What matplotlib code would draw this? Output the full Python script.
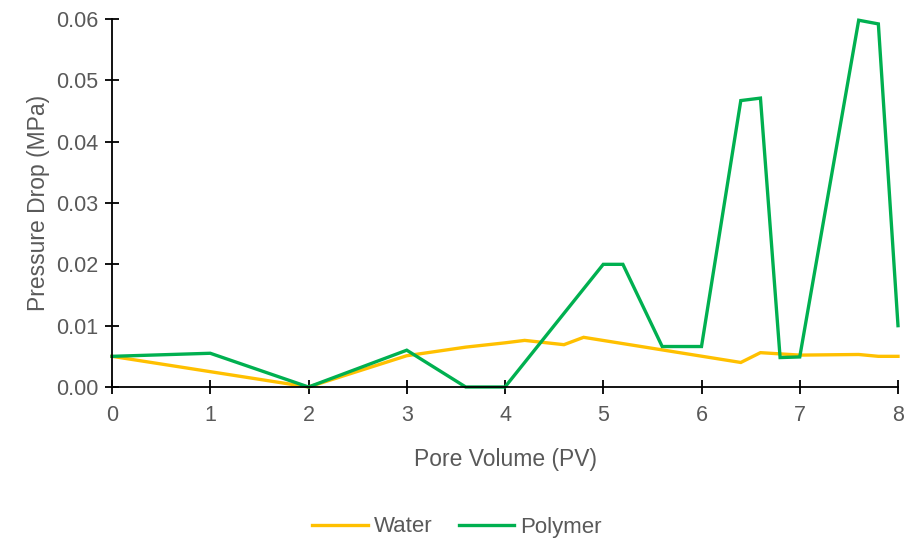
import matplotlib
matplotlib.use('Agg')
import matplotlib.pyplot as plt

# pore volume (PV) and pressure drop (MPa)
water_pv = [0, 1, 2, 3, 3.6, 4.0, 4.2, 4.6, 4.8, 6.4, 6.6, 7.0, 7.6, 7.8, 8.0]
water_dp = [0.005, 0.0025, 0.0, 0.0051, 0.0065, 0.0072, 0.0076, 0.0069, 0.0081,
            0.0040, 0.0056, 0.0052, 0.0053, 0.0050, 0.0050]

polymer_pv = [0, 1, 2, 3, 3.6, 4.0, 5.0, 5.2, 5.6, 6.0, 6.4, 6.6, 6.8, 7.0, 7.6, 7.8, 8.0]
polymer_dp = [0.005, 0.0055, 0.0, 0.006, 0.0, 0.0, 0.020, 0.020, 0.0066, 0.0066,
              0.0467, 0.0471, 0.0048, 0.0049, 0.0598, 0.0592, 0.0100]

x_ticks = [0, 1, 2, 3, 4, 5, 6, 7, 8]
y_ticks = [0.00, 0.01, 0.02, 0.03, 0.04, 0.05, 0.06]

plt.rcParams['font.family'] = ['Liberation Sans', 'DejaVu Sans']
grey = '#595959'

fig = plt.figure(figsize=(9.06, 5.42), dpi=100)
ax = fig.add_axes([112 / 906, 155 / 542, 786 / 906, 368 / 542])

ax.plot(water_pv, water_dp, color='#FFC000', lw=2.4, label='Water',
        solid_joinstyle='miter', clip_on=False)
ax.plot(polymer_pv, polymer_dp, color='#00B050', lw=2.4, label='Polymer',
        solid_joinstyle='miter', clip_on=False)

ax.set_xlim(0, 8)
ax.set_ylim(0, 0.06)
ax.set_xticks(x_ticks)
ax.set_yticks(y_ticks)
ax.set_xticklabels([str(v) for v in x_ticks])
ax.set_yticklabels(['%.2f' % v for v in y_ticks])

for s in ['top', 'right']:
    ax.spines[s].set_visible(False)
for s in ['left', 'bottom']:
    ax.spines[s].set_linewidth(1.3)
    ax.spines[s].set_color('black')

ax.tick_params(axis='both', direction='inout', length=10, width=1.3, color='black',
               labelcolor=grey, labelsize=15.5, pad=5)
ax.tick_params(axis='x', pad=8)

ax.set_xlabel('Pore Volume (PV)', color=grey, fontsize=16.5, labelpad=16)
ax.set_ylabel('Pressure Drop (MPa)', color=grey, fontsize=16.5, labelpad=4)

leg = fig.legend(loc='center', bbox_to_anchor=(457 / 906, 1 - 527 / 542), ncol=2,
                 frameon=False, fontsize=16, handlelength=2.5, columnspacing=1.2,
                 handletextpad=0.25)
for t in leg.get_texts():
    t.set_color(grey)

plt.savefig('out.png', dpi=100)
plt.close()
